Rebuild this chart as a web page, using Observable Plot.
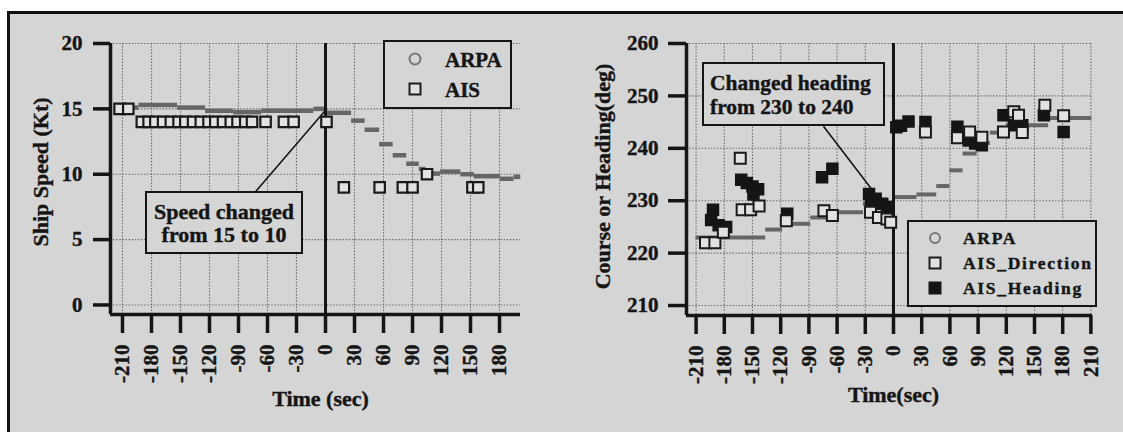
<!DOCTYPE html>
<html><head><meta charset="utf-8">
<script src="https://cdn.jsdelivr.net/npm/d3@7"></script>
<script src="https://cdn.jsdelivr.net/npm/@observablehq/plot@0.6"></script>
<style>
body{margin:0;background:#fff;width:1123px;height:432px;overflow:hidden;position:relative;font-family:"Liberation Serif","Times New Roman",serif;font-weight:bold;color:#151515}
#frame{position:absolute;left:7px;top:11px;width:1140px;height:450px;border:3px solid #111;background:#d5d5d5;box-sizing:border-box}
.plot{position:absolute;top:0}
.plot svg text{stroke:#151515;stroke-width:0.4px}
.box{position:absolute;border:2.5px solid #151515;background:#d5d5d5;box-sizing:border-box}
.item{position:absolute;white-space:nowrap;line-height:1;transform:translateY(-50%);-webkit-text-stroke:0.4px #151515}
.sym{position:absolute;box-sizing:border-box;transform:translate(-50%,-50%)}
</style></head>
<body>
<div id="frame"></div>
<div id="left" class="plot" style="left:0"></div>
<div id="right" class="plot" style="left:560px"></div>

<div class="box" style="left:383px;top:40px;width:129px;height:69px"></div>
<div class="sym" style="left:415px;top:59px;width:13px;height:13px;border:2px solid #777;border-radius:50%"></div>
<div class="item" style="left:445px;top:60px;font-size:21px">ARPA</div>
<div class="sym" style="left:415px;top:89px;width:13px;height:13px;border:2.2px solid #1a1a1a;background:#e2e2e2"></div>
<div class="item" style="left:445px;top:90px;font-size:21px">AIS</div>

<div class="box" style="left:145px;top:191px;width:158px;height:63px"></div>
<div class="item" style="left:145px;width:158px;top:223px;font-size:22px;line-height:23px;text-align:center;transform:translateY(-50%)">Speed changed<br>from 15 to 10</div>

<div class="box" style="left:907px;top:220px;width:190px;height:87px"></div>
<div class="sym" style="left:935px;top:238px;width:12px;height:12px;border:2px solid #777;border-radius:50%"></div>
<div class="item" style="left:963px;top:239px;font-size:17.5px;letter-spacing:1.7px">ARPA</div>
<div class="sym" style="left:935px;top:263px;width:13px;height:13px;border:2px solid #1a1a1a;background:#e2e2e2"></div>
<div class="item" style="left:963px;top:264px;font-size:17.5px;letter-spacing:1.7px">AIS_Direction</div>
<div class="sym" style="left:935px;top:288px;width:13px;height:13px;background:#151515"></div>
<div class="item" style="left:963px;top:289px;font-size:17.5px;letter-spacing:1.7px">AIS_Heading</div>

<div class="box" style="left:702px;top:62px;width:183px;height:64px"></div>
<div class="item" style="left:710px;top:95px;font-size:21.5px;line-height:24px">Changed heading<br>from 230 to 240</div>

<script>
// ---------- data: left panel (ship speed) ----------
const speedX = [-222.4, 201.7];
const speedY = [-0.73, 20];
const speedTicks = [0, 5, 10, 15, 20];
const timeTicksL = [-210, -180, -150, -120, -90, -60, -30, 0, 30, 60, 90, 120, 150, 180];

// ARPA speed, drawn as step segments (start sec, end sec, knots)
const arpaSpeedStart = [-214, -193, -153, -124, -95, -66, -12, 0, 27, 41, 56, 70, 84, 97, 104, 119, 140, 154, 181, 195];
const arpaSpeedEnd   = [-193, -153, -124, -95, -66, -12, 0, 27, 41, 56, 70, 84, 97, 104, 119, 140, 154, 181, 195, 202];
const arpaSpeedVal   = [15.1, 15.3, 15.1, 14.85, 14.75, 14.85, 15.0, 14.7, 14.1, 13.4, 12.3, 11.45, 10.8, 10.4, 10.05, 10.2, 10.0, 9.85, 9.65, 9.8];

// AIS speed
const aisSpeedT = [-213, -204, -190, -183, -176, -168, -160, -152, -145, -137, -129, -121, -114, -106, -98, -91, -83, -76, -62, -43, -33, 1, 19, 56, 80, 90, 105, 152, 158];
const aisSpeedV = [15, 15, 14, 14, 14, 14, 14, 14, 14, 14, 14, 14, 14, 14, 14, 14, 14, 14, 14, 14, 14, 14, 9, 9, 9, 9, 10, 9, 9];

const speedNote = [{t0: -72, v0: 8.7, t1: 0, v1: 14.9}];

// ---------- data: right panel (course / heading) ----------
const courseX = [-220.2, 211.7];
const courseY = [208.1, 260];
const courseTicks = [210, 220, 230, 240, 250, 260];
const timeTicksR = [-210, -180, -150, -120, -90, -60, -30, 0, 30, 60, 90, 120, 150, 180, 210];

const arpaCourseStart = [-210, -136, -118, -88, -60, -32, 0, 25, 46, 60, 74, 89, 103, 120, 165];
const arpaCourseEnd   = [-136, -118, -88, -60, -32, 0, 25, 46, 60, 74, 89, 103, 120, 165, 211];
const arpaCourseVal   = [223.0, 224.5, 225.6, 226.8, 227.8, 229.4, 230.7, 231.2, 232.8, 235.8, 239.0, 241.0, 243.0, 244.4, 245.8];

const aisDirT = [-200, -190, -181, -163, -161, -152, -143, -114, -74, -65, -24.5, -16, -7, -3, 34, 68, 81, 94, 117, 128, 133, 137, 161, 181];
const aisDirV = [222, 222, 224, 238.1, 228.3, 228.3, 229, 226.2, 228.1, 227.2, 227.8, 226.8, 226.5, 225.9, 243.1, 242, 243.1, 242.1, 243.1, 247, 246.3, 243, 248.2, 246.2];

const aisHeadT = [-192, -194, -186, -178, -162, -156, -150, -144, -149, -113, -76, -65, -26, -19, -12, -7, -24, 3, 8, 16, 34, 68, 80, 87, 94, 117, 128, 137, 160, 181];
const aisHeadV = [228.3, 226.3, 225.3, 225, 234, 233.4, 232.7, 232.2, 231.2, 227.5, 234.5, 236.1, 231.3, 230.4, 229.4, 228.8, 229, 244, 244.3, 245.1, 245, 244.1, 241.5, 240.9, 240.6, 246.3, 244.4, 244.4, 246.3, 243.1];

const courseNote = [{t0: -74.5, v0: 244.2, t1: -13.8, v1: 230.0}];

// ---------- build tables ----------
const steps = (a, b, v) => a.map((d, i) => ({t0: d, t1: b[i], v: v[i]}));
const pts = (t, v) => t.map((d, i) => ({t: d, v: v[i]}));

const arpaSpeed = steps(arpaSpeedStart, arpaSpeedEnd, arpaSpeedVal);
const aisSpeed = pts(aisSpeedT, aisSpeedV);
const arpaCourse = steps(arpaCourseStart, arpaCourseEnd, arpaCourseVal);
const aisDir = pts(aisDirT, aisDirV);
const aisHead = pts(aisHeadT, aisHeadV);

const INK = "#151515";
const GRID = {stroke: "#6f6f6f", strokeWidth: 1.1, strokeDasharray: "1.5,1.6"};
const style = {fontFamily: '"Liberation Serif","Times New Roman",serif', fontWeight: "bold", fontSize: "20px", color: INK, background: "transparent", overflow: "visible"};
const fmt = d => String(d);

const leftPlot = Plot.plot({
  width: 560, height: 432,
  marginLeft: 110, marginRight: 40, marginTop: 43, marginBottom: 118,
  style,
  x: {domain: speedX},
  y: {domain: speedY},
  marks: [
    Plot.ruleY(speedTicks, GRID),
    Plot.ruleX(timeTicksL, GRID),
    Plot.ruleY(arpaSpeed, {x1: "t0", x2: "t1", y: "v", stroke: "#666", strokeWidth: 4.5}),
    Plot.ruleX([0], {stroke: INK, strokeWidth: 3}),
    Plot.dot(aisSpeed, {x: "t", y: "v", symbol: "square", r: 5.9, stroke: "#1a1a1a", strokeWidth: 2.2, fill: "#e2e2e2"}),
    Plot.link(speedNote, {x1: "t0", y1: "v0", x2: "t1", y2: "v1", stroke: INK, strokeWidth: 1.6}),
    Plot.ruleX([speedX[0]], {stroke: INK, strokeWidth: 3.5}),
    Plot.ruleY([speedY[0]], {stroke: INK, strokeWidth: 3.5}),
    Plot.axisY({ticks: speedTicks, tickFormat: fmt, tickSize: 17, tickPadding: 11, strokeWidth: 3.5, label: null, fontSize: 21}),
    Plot.axisX({ticks: timeTicksL, tickFormat: fmt, tickSize: 19, tickPadding: 11, tickRotate: -90, strokeWidth: 3.5, label: null, fontSize: 21}),
    Plot.text(["Time (sec)"], {text: d => d, frameAnchor: "bottom", dy: 91, dx: 5, fontSize: 22}),
    Plot.text(["Ship Speed (Kt)"], {text: d => d, frameAnchor: "left", textAnchor: "middle", dx: -70, dy: -7, rotate: -90, fontSize: 22})
  ]
});
document.getElementById("left").appendChild(leftPlot);

const rightPlot = Plot.plot({
  width: 563, height: 432,
  marginLeft: 126, marginRight: 31, marginTop: 43, marginBottom: 117,
  style,
  x: {domain: courseX},
  y: {domain: courseY},
  marks: [
    Plot.ruleY(courseTicks, GRID),
    Plot.ruleX(timeTicksR, GRID),
    Plot.ruleY(arpaCourse, {x1: "t0", x2: "t1", y: "v", stroke: "#666", strokeWidth: 4}),
    Plot.ruleX([0], {stroke: INK, strokeWidth: 3}),
    Plot.dot(aisHead, {x: "t", y: "v", symbol: "square", r: 6.2, stroke: INK, strokeWidth: 1.5, fill: INK}),
    Plot.dot(aisDir, {x: "t", y: "v", symbol: "square", r: 6.2, stroke: "#1a1a1a", strokeWidth: 2, fill: "#e2e2e2"}),
    Plot.link(courseNote, {x1: "t0", y1: "v0", x2: "t1", y2: "v1", stroke: INK, strokeWidth: 1.6}),
    Plot.ruleX([courseX[0]], {stroke: INK, strokeWidth: 3.5}),
    Plot.ruleY([courseY[0]], {stroke: INK, strokeWidth: 3.5}),
    Plot.axisY({ticks: courseTicks, tickFormat: fmt, tickSize: 18, tickPadding: 10, strokeWidth: 3.5, label: null, fontSize: 21}),
    Plot.axisX({ticks: timeTicksR, tickFormat: fmt, tickSize: 19, tickPadding: 11, tickRotate: -90, strokeWidth: 3.5, label: null, fontSize: 21}),
    Plot.text(["Time(sec)"], {text: d => d, frameAnchor: "bottom", dy: 86, dx: 4, fontSize: 22}),
    Plot.text(["Course or Heading(deg)"], {text: d => d, frameAnchor: "left", textAnchor: "middle", dx: -84, dy: -3, rotate: -90, fontSize: 22})
  ]
});
document.getElementById("right").appendChild(rightPlot);
</script>
</body></html>
